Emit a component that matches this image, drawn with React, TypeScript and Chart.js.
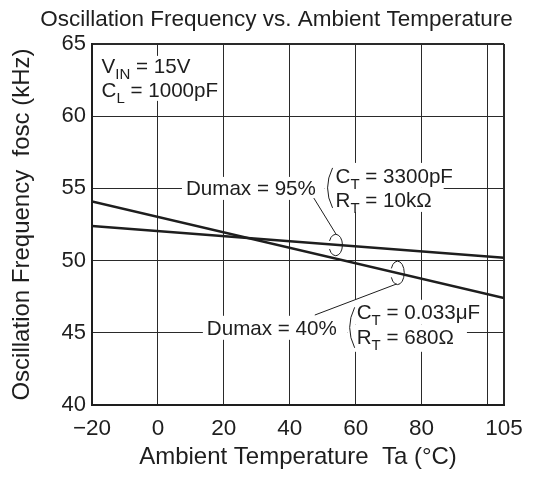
import React, { useEffect, useRef } from 'react';
import { Chart, registerables } from 'chart.js';

Chart.register(...registerables);

// ---- data ----
const temperatures = [-20, 105];
const dumax95 = [52.4, 50.2]; // CT = 3300pF, RT = 10kΩ
const dumax40 = [54.1, 47.4]; // CT = 0.033µF, RT = 680Ω
const xTickValues = [-20, 0, 20, 40, 60, 80, 100, 105];
const xTickLabels = ['\u221220', '0', '20', '40', '60', '80', '', '105'];
const yTickValues = [40, 45, 50, 55, 60, 65];

const FONT = '"Liberation Sans", Arial, Helvetica, sans-serif';
const INK = '#1e1e1e';
const TEXT_SIZE = 20.6;
const SUB_SIZE = 15;

type Part = [string, boolean];

function richWidth(ctx: CanvasRenderingContext2D, parts: Part[]): number {
  let w = 0;
  for (const [t, sub] of parts) {
    ctx.font = `${sub ? SUB_SIZE : TEXT_SIZE}px ${FONT}`;
    w += ctx.measureText(t).width;
  }
  return w;
}

function drawRich(ctx: CanvasRenderingContext2D, x: number, y: number, parts: Part[]) {
  let cx = x;
  ctx.textAlign = 'left';
  ctx.textBaseline = 'alphabetic';
  for (const [t, sub] of parts) {
    ctx.font = `${sub ? SUB_SIZE : TEXT_SIZE}px ${FONT}`;
    ctx.fillText(t, cx, sub ? y + 6 : y);
    cx += ctx.measureText(t).width;
  }
}

const vinLines: Part[][] = [
  [['V', false], ['IN', true], [' = 15V', false]],
  [['C', false], ['L', true], [' = 1000pF', false]],
];
const set95Lines: Part[][] = [
  [['C', false], ['T', true], [' = 3300pF', false]],
  [['R', false], ['T', true], [' = 10k\u03A9', false]],
];
const set40Lines: Part[][] = [
  [['C', false], ['T', true], [' = 0.033\u03BCF', false]],
  [['R', false], ['T', true], [' = 680\u03A9', false]],
];
const label95: Part[] = [['Dumax = 95%', false]];
const label40: Part[] = [['Dumax = 40%', false]];

const notesPlugin = {
  id: 'notes',
  beforeDatasetsDraw(chart: any) {
    const ctx: CanvasRenderingContext2D = chart.ctx;
    const xs = chart.scales.x;
    const ys = chart.scales.y;
    const X = (v: number) => xs.getPixelForValue(v);
    const Y = (v: number) => ys.getPixelForValue(v);
    ctx.save();

    // anchors
    const vinL = X(-17.1), vinB1 = Y(63.0), vinB2 = vinB1 + 24;
    const d95L = X(8.5), d95B = Y(55) + 7;
    const c95L = X(53.9), c95B1 = Y(55) - 5, c95B2 = c95B1 + 23.5;
    const d40L = X(14.85), d40B = Y(45) + 2;
    const c40L = X(60.3), c40B1 = Y(45) - 13.5, c40B2 = c40B1 + 24.5;

    const wVin = Math.max(richWidth(ctx, vinLines[0]), richWidth(ctx, vinLines[1]));
    const w95a = richWidth(ctx, set95Lines[0]);
    const w95b = richWidth(ctx, set95Lines[1]);
    const w40a = richWidth(ctx, set40Lines[0]);
    const w40b = richWidth(ctx, set40Lines[1]);

    // white knock-out boxes
    ctx.fillStyle = '#ffffff';
    ctx.fillRect(vinL - 4, vinB1 - 17, wVin + 8, vinB2 + 4 - (vinB1 - 17));
    ctx.fillRect(d95L - 4, d95B - 18.5, c95L - 11 - (d95L - 4), 23);
    ctx.fillRect(c95L - 11, c95B1 - 20.5, w95a + 13, 25);
    ctx.fillRect(c95L - 11, c95B1 + 4.5, w95b + 23, c95B2 + 5 - (c95B1 + 4.5));
    ctx.fillRect(d40L - 4, d40B - 19, c40L - 9 - (d40L - 4), 24);
    ctx.fillRect(c40L - 9, c40B1 - 19.5, w40a + 11, 24.5);
    ctx.fillRect(c40L - 9, c40B1 + 5, w40b + 22, c40B2 + 8 - (c40B1 + 5));

    // texts
    ctx.fillStyle = INK;
    drawRich(ctx, vinL, vinB1, vinLines[0]);
    drawRich(ctx, vinL, vinB2, vinLines[1]);
    drawRich(ctx, d95L, d95B, label95);
    drawRich(ctx, c95L, c95B1, set95Lines[0]);
    drawRich(ctx, c95L, c95B2, set95Lines[1]);
    drawRich(ctx, d40L, d40B, label40);
    drawRich(ctx, c40L, c40B1, set40Lines[0]);
    drawRich(ctx, c40L, c40B2, set40Lines[1]);

    // brackets, leaders and ellipses
    ctx.strokeStyle = INK;
    ctx.lineWidth = 1;
    const paren = (xTop: number, yTop: number, yBot: number, bulge: number) => {
      ctx.beginPath();
      ctx.moveTo(xTop, yTop);
      ctx.quadraticCurveTo(xTop - 2 * bulge, (yTop + yBot) / 2, xTop, yBot);
      ctx.stroke();
    };
    paren(c95L - 3, c95B1 - 15.5, c95B2 + 1, 5);
    paren(c40L - 2, c40B1 - 12, c40B2 + 4, 5);

    ctx.beginPath();
    ctx.moveTo(X(47.3), Y(54.33));
    ctx.lineTo(X(54.2), Y(51.77));
    ctx.moveTo(X(47.6), Y(46.23));
    ctx.lineTo(X(72.4), Y(48.38));
    ctx.stroke();

    ctx.beginPath();
    ctx.ellipse(X(53.95), Y(51.08), 6.7, 10.7, 0, -2.75, 2.75);
    ctx.stroke();
    ctx.beginPath();
    ctx.ellipse(X(72.7), Y(49.15), 6.7, 11.7, 0, -2.75, 2.75);
    ctx.stroke();

    ctx.restore();
  },
  afterDraw(chart: any) {
    const ctx: CanvasRenderingContext2D = chart.ctx;
    ctx.save();
    ctx.fillStyle = INK;
    ctx.font = `22.5px ${FONT}`;
    ctx.textAlign = 'center';
    ctx.textBaseline = 'alphabetic';
    ctx.fillText('Oscillation Frequency vs. Ambient Temperature', chart.width / 2, 26);
    ctx.restore();
  },
};

export default function App() {
  const ref = useRef<HTMLCanvasElement | null>(null);

  useEffect(() => {
    if (!ref.current) return;
    const chart = new Chart(ref.current, {
      type: 'scatter',
      data: {
        datasets: [
          {
            label: 'Dumax = 95%',
            data: temperatures.map((t, i) => ({ x: t, y: dumax95[i] })),
            showLine: true,
            borderColor: INK,
            borderWidth: 2.5,
            pointRadius: 0,
            fill: false,
          },
          {
            label: 'Dumax = 40%',
            data: temperatures.map((t, i) => ({ x: t, y: dumax40[i] })),
            showLine: true,
            borderColor: INK,
            borderWidth: 2.5,
            pointRadius: 0,
            fill: false,
          },
        ],
      },
      options: {
        responsive: false,
        animation: false,
        devicePixelRatio: 1,
        layout: { padding: { top: 44, right: 49, left: 0, bottom: 0 } },
        plugins: {
          legend: { display: false },
          tooltip: { enabled: false },
          title: { display: false },
        },
        scales: {
          x: {
            type: 'linear',
            min: -20,
            max: 105,
            afterBuildTicks: (scale: any) => {
              scale.ticks = xTickValues.map((v) => ({ value: v }));
            },
            afterFit: (scale: any) => {
              scale.height = 72;
            },
            ticks: {
              autoSkip: false,
              maxRotation: 0,
              padding: 10,
              color: INK,
              font: { family: FONT, size: 22.5 },
              callback: (_v: any, i: number) => xTickLabels[i],
            },
            grid: {
              color: '#2a2a2a',
              lineWidth: (c: any) => (c.tick && c.tick.value === 105 ? 2 : 1),
              drawTicks: false,
            },
            border: { display: true, color: INK, width: 2 },
            title: {
              display: true,
              text: 'Ambient Temperature  Ta (\u00B0C)',
              color: INK,
              font: { family: FONT, size: 24 },
              padding: { top: 0, bottom: 5 },
            },
          },
          y: {
            type: 'linear',
            min: 40,
            max: 65,
            afterBuildTicks: (scale: any) => {
              scale.ticks = yTickValues.map((v) => ({ value: v }));
            },
            afterFit: (scale: any) => {
              scale.width = 92;
            },
            ticks: {
              padding: 6,
              color: INK,
              font: { family: FONT, size: 22 },
            },
            grid: {
              color: '#2a2a2a',
              lineWidth: (c: any) => (c.tick && c.tick.value === 65 ? 2 : 1),
              drawTicks: false,
            },
            border: { display: true, color: INK, width: 2 },
            title: {
              display: true,
              text: 'Oscillation Frequency  fosc (kHz)',
              color: INK,
              font: { family: FONT, size: 24 },
              padding: { top: 8, bottom: 0 },
            },
          },
        },
      },
      plugins: [notesPlugin],
    } as any);
    return () => chart.destroy();
  }, []);

  return (
    <canvas
      ref={ref}
      width={553}
      height={477}
      style={{ position: 'absolute', left: 0, top: 0, display: 'block', background: '#fff' }}
    />
  );
}
